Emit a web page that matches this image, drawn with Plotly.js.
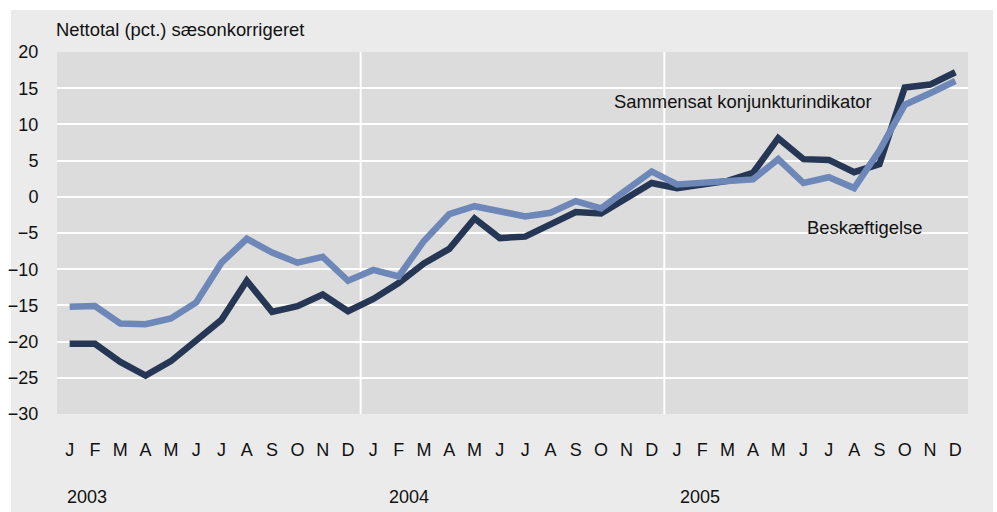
<!DOCTYPE html>
<html>
<head>
<meta charset="utf-8">
<script src="https://cdn.plot.ly/plotly-3.0.1.min.js"></script>
<style>
  html, body { margin: 0; padding: 0; background: #ffffff; width: 997px; height: 512px; overflow: hidden; }
  #bg { position: absolute; left: 11px; top: 10px; width: 982px; height: 502px; background: #ebebeb; }
  #chart { position: absolute; left: 0; top: 0; width: 997px; height: 512px; }
</style>
</head>
<body>
<div id="bg"></div>
<div id="chart"></div>
<script>
const monthLetters = ['J','F','M','A','M','J','J','A','S','O','N','D'];
const years = ['2003', '2004', '2005'];

const konjunktur2003 = [-20.3, -20.3, -22.8, -24.7, -22.7, -19.8, -17.0, -11.6, -15.9, -15.1, -13.5, -15.8];
const konjunktur2004 = [-14.1, -11.9, -9.2, -7.2, -3.0, -5.7, -5.5, -3.8, -2.1, -2.3, -0.1, 1.9];
const konjunktur2005 = [1.2, 1.6, 2.2, 3.3, 8.1, 5.2, 5.1, 3.4, 4.5, 15.1, 15.5, 17.2];

const beskaeft2003 = [-15.2, -15.1, -17.5, -17.6, -16.8, -14.6, -9.1, -5.8, -7.7, -9.1, -8.3, -11.6];
const beskaeft2004 = [-10.1, -11.0, -6.1, -2.4, -1.3, -2.1, -2.7, -2.2, -0.6, -1.6, 1.0, 3.5];
const beskaeft2005 = [1.7, 2.0, 2.2, 2.4, 5.2, 1.9, 2.7, 1.2, 6.4, 12.7, 14.3, 16.0];

const yTicks = [20, 15, 10, 5, 0, -5, -10, -15, -20, -25, -30];

const konjunktur = [].concat(konjunktur2003, konjunktur2004, konjunktur2005);
const beskaeft = [].concat(beskaeft2003, beskaeft2004, beskaeft2005);
const tickText = [].concat(monthLetters, monthLetters, monthLetters);
const xs = tickText.map((_, i) => i);

const FONT = '"Liberation Sans", Arial, sans-serif';
const DARK = '#263655';
const LIGHT = '#6d88b8';
const TXT = '#111111';

const traces = [
  { x: xs, y: konjunktur, type: 'scatter', mode: 'lines', name: 'Sammensat konjunkturindikator',
    line: { color: DARK, width: 6.5 }, hoverinfo: 'skip' },
  { x: xs, y: beskaeft, type: 'scatter', mode: 'lines', name: 'Beskæftigelse',
    line: { color: LIGHT, width: 6.5 }, hoverinfo: 'skip' }
];

const shapes = [];
for (let k = 1; k < years.length; k++) {
  shapes.push({ type: 'line', xref: 'x', yref: 'paper', x0: k * 12 - 0.5, x1: k * 12 - 0.5, y0: 0, y1: 1,
    line: { color: '#ffffff', width: 2 }, layer: 'below' });
}

const yearLeft = [-0.2, 12.55, 24.05];
const annotations = years.map((yr, i) => ({
  text: yr, xref: 'x', yref: 'paper', x: yearLeft[i], y: -0.229, xanchor: 'left', yanchor: 'middle',
  showarrow: false, font: { family: FONT, size: 18, color: TXT }
}));
annotations.push({ text: 'Nettotal (pct.) sæsonkorrigeret', xref: 'paper', yref: 'paper', x: -0.003, y: 1.062,
  xanchor: 'left', yanchor: 'middle', showarrow: false, font: { family: FONT, size: 18.4, color: TXT } });
annotations.push({ text: 'Sammensat konjunkturindikator', xref: 'x', yref: 'y', x: 26.6, y: 13.2,
  xanchor: 'center', yanchor: 'middle', showarrow: false, font: { family: FONT, size: 18.4, color: TXT } });
annotations.push({ text: 'Beskæftigelse', xref: 'x', yref: 'y', x: 31.44, y: -4.2,
  xanchor: 'center', yanchor: 'middle', showarrow: false, font: { family: FONT, size: 18.4, color: TXT } });

const layout = {
  width: 997, height: 512,
  margin: { l: 57, r: 29, t: 52, b: 98 },
  paper_bgcolor: 'rgba(0,0,0,0)',
  plot_bgcolor: '#dcdcdc',
  showlegend: false,
  font: { family: FONT, size: 18, color: TXT },
  xaxis: {
    range: [-0.5, 35.5], tickmode: 'array', tickvals: xs, ticktext: tickText,
    showgrid: false, zeroline: false, showline: false,
    ticks: 'outside', ticklen: 19, tickcolor: 'rgba(0,0,0,0)',
    tickfont: { family: FONT, size: 18, color: TXT }, fixedrange: true
  },
  yaxis: {
    range: [-30, 20], tickmode: 'array', tickvals: yTicks,
    showgrid: true, gridcolor: '#ffffff', gridwidth: 2,
    zeroline: false, showline: false,
    ticks: 'outside', ticklen: 14, tickcolor: 'rgba(0,0,0,0)',
    tickfont: { family: FONT, size: 18, color: TXT }, fixedrange: true
  },
  shapes: shapes,
  annotations: annotations
};

Plotly.newPlot('chart', traces, layout, { displayModeBar: false, staticPlot: true });
</script>
</body>
</html>
